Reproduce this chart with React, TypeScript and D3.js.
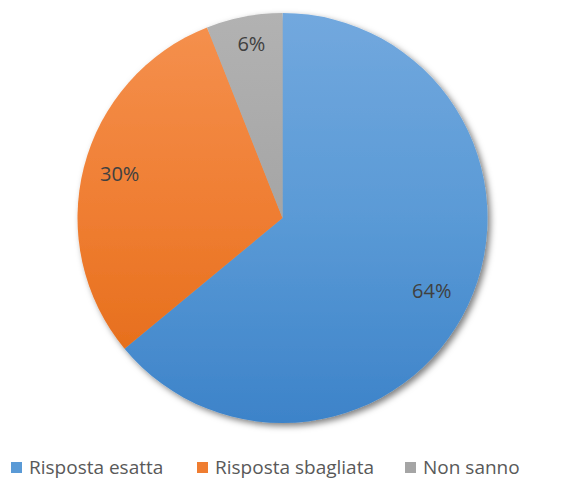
import { useEffect, useRef } from 'react';
import * as d3 from 'd3';

const categories = ['Risposta esatta', 'Risposta sbagliata', 'Non sanno'];
const values = [64, 30, 6];
const labels = ['64%', '30%', '6%'];
const topColors = ['#72a8de', '#f5914f', '#b2b2b2'];
const midColors = ['#5a9ad6', '#ef7d31', '#a5a5a5'];
const bottomColors = ['#3d83c9', '#e26812', '#959595'];

const App = () => {
  const svgRef = useRef<SVGSVGElement | null>(null);
  const width = 565;
  const height = 488;

  useEffect(() => {
    const svg = d3.select(svgRef.current);
    svg.selectAll('*').remove();

    const cx = 282.5;
    const cy = 218;
    const radius = 205;

    const defs = svg.append('defs');
    categories.forEach((c, i) => {
      const grad = defs.append('linearGradient')
        .attr('id', `grad-${i}`)
        .attr('gradientUnits', 'userSpaceOnUse')
        .attr('x1', 0).attr('x2', 0)
        .attr('y1', -radius).attr('y2', radius);
      grad.append('stop').attr('offset', '0%').attr('stop-color', topColors[i]);
      grad.append('stop').attr('offset', '50%').attr('stop-color', midColors[i]);
      grad.append('stop').attr('offset', '100%').attr('stop-color', bottomColors[i]);
    });

    const filter = defs.append('filter')
      .attr('id', 'shadow')
      .attr('x', '-10%').attr('y', '-10%')
      .attr('width', '120%').attr('height', '120%');
    filter.append('feDropShadow')
      .attr('dx', 3).attr('dy', 3)
      .attr('stdDeviation', 3)
      .attr('flood-color', '#000')
      .attr('flood-opacity', 0.5);

    const pie = d3.pie<number>().sort(null).value(d => d);
    const arcs = pie(values);
    const arc = d3.arc<d3.PieArcDatum<number>>().innerRadius(0).outerRadius(radius);
    const labelArc = d3.arc<d3.PieArcDatum<number>>().innerRadius(radius * 0.81).outerRadius(radius * 0.81);

    const g = svg.append('g').attr('transform', `translate(${cx},${cy})`);

    g.append('g')
      .attr('filter', 'url(#shadow)')
      .selectAll('path')
      .data(arcs)
      .enter()
      .append('path')
      .attr('d', arc)
      .attr('fill', (d, i) => `url(#grad-${i})`);

    // small nudges to sit labels where the original puts them
    const nudge = [[-1, 2], [-2, -3], [0, -11]];
    g.selectAll('text.label')
      .data(arcs)
      .enter()
      .append('text')
      .attr('class', 'label')
      .attr('transform', (d, i) => {
        const [x, y] = labelArc.centroid(d);
        return `translate(${x + nudge[i][0]},${y + nudge[i][1]})`;
      })
      .attr('text-anchor', 'middle')
      .attr('dominant-baseline', 'central')
      .attr('fill', '#404040')
      .style('font-family', '"Open Sans", sans-serif')
      .style('font-size', '20px')
      .text((d, i) => labels[i]);

    const legendX = [11, 197, 405];
    const legend = svg.append('g').attr('transform', 'translate(0,467)');
    categories.forEach((c, i) => {
      const item = legend.append('g').attr('transform', `translate(${legendX[i]},0)`);
      item.append('rect')
        .attr('x', 0).attr('y', -5)
        .attr('width', 11).attr('height', 11)
        .attr('fill', midColors[i]);
      item.append('text')
        .attr('x', 18)
        .attr('y', 0)
        .attr('dominant-baseline', 'central')
        .attr('fill', '#595959')
        .style('font-family', '"Open Sans", sans-serif')
        .style('font-size', '19px')
        .text(c);
    });
  }, []);

  return (
    <svg ref={svgRef} width={width} height={height} style={{ position: 'absolute', left: 0, top: 0 }}></svg>
  );
};

export default App;
